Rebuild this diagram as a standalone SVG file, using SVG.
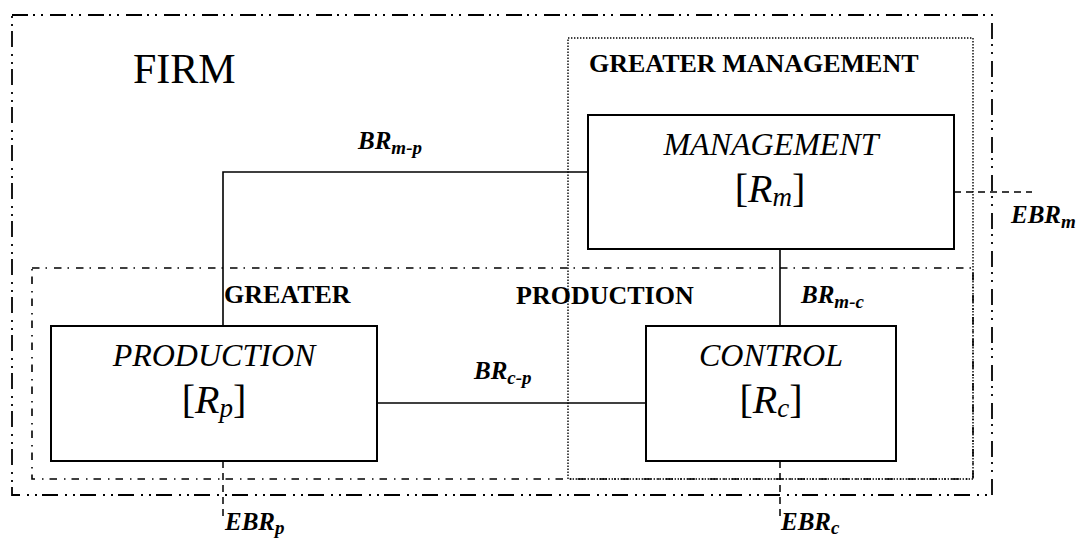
<svg xmlns="http://www.w3.org/2000/svg" width="1082" height="539" viewBox="0 0 1082 539">
  <style>
    .serif { font-family: "Liberation Serif", "Times New Roman", serif; fill: #000; }
    .title { font-size: 42px; }
    .zone { font-size: 26px; font-weight: bold; }
    .unit { font-size: 32px; font-style: italic; }
    .res { font-size: 40px; }
    .res .sym { font-style: italic; }
    .res .sub { font-size: 27px; font-style: italic; }
    .rel { font-size: 25px; font-weight: bold; font-style: italic; }
    .rel .sub { font-size: 19px; }
    .box { fill: #fff; stroke: #000; stroke-width: 2; }
    .firm { fill: none; stroke: #000; stroke-width: 1.8; stroke-dasharray: 16 5 2 6 2 7; }
    .gprod { fill: none; stroke: #000; stroke-width: 1.6; stroke-dasharray: 7.5 6 1.5 7; }
    .gman { fill: none; stroke: #000; stroke-width: 1.4; stroke-dasharray: 1.4 1.6; }
    .link { fill: none; stroke: #000; stroke-width: 1.6; }
    .ext { fill: none; stroke: #000; stroke-width: 1.5; stroke-dasharray: 7 5; }
  </style>

  <rect width="1082" height="539" fill="#fff"/>

  <!-- boundary of the firm -->
  <g id="firm">
    <rect class="firm" x="12" y="15" width="980" height="480"/>
    <text class="serif title" x="133" y="83">FIRM</text>
  </g>

  <!-- greater production zone -->
  <g id="greater-production">
    <rect class="gprod" x="32" y="268" width="941" height="211"/>
    <text class="serif zone" x="224" y="303">GREATER</text>
    <text class="serif zone" x="516" y="304">PRODUCTION</text>
  </g>

  <!-- greater management zone -->
  <g id="greater-management">
    <rect class="gman" x="568" y="38" width="405" height="441"/>
    <text class="serif zone" x="589" y="72">GREATER MANAGEMENT</text>
  </g>

  <!-- relations between units and with the outside -->
  <g id="connectors">
    <polyline class="link" points="588,172 223,172 223,326"/>
    <line class="link" x1="780" y1="249" x2="780" y2="326"/>
    <line class="link" x1="377" y1="403" x2="646" y2="403"/>
    <line class="ext" x1="954" y1="192" x2="1032" y2="192"/>
    <line class="ext" x1="223" y1="461" x2="223" y2="518"/>
    <line class="ext" x1="780" y1="461" x2="780" y2="516"/>

    <text class="serif rel" x="358" y="149">BR<tspan class="sub" dy="5">m-p</tspan></text>
    <text class="serif rel" x="801" y="303">BR<tspan class="sub" dy="5">m-c</tspan></text>
    <text class="serif rel" x="474" y="379">BR<tspan class="sub" dy="5">c-p</tspan></text>
    <text class="serif rel" x="1011" y="223">EBR<tspan class="sub" dy="5">m</tspan></text>
    <text class="serif rel" x="225" y="530">EBR<tspan class="sub" dy="4">p</tspan></text>
    <text class="serif rel" x="781" y="530">EBR<tspan class="sub" dy="4">c</tspan></text>
  </g>

  <g id="management">
    <rect class="box" x="588" y="115" width="366" height="134"/>
    <text class="serif unit" x="771" y="155" text-anchor="middle">MANAGEMENT</text>
    <text class="serif res" x="770" y="202" text-anchor="middle">[<tspan class="sym">R</tspan><tspan class="sub" dy="4">m</tspan><tspan dy="-4">]</tspan></text>
  </g>

  <g id="production">
    <rect class="box" x="51" y="326" width="326" height="135"/>
    <text class="serif unit" x="214" y="366" text-anchor="middle">PRODUCTION</text>
    <text class="serif res" x="214" y="413" text-anchor="middle">[<tspan class="sym">R</tspan><tspan class="sub" dy="4">p</tspan><tspan dy="-4">]</tspan></text>
  </g>

  <g id="control">
    <rect class="box" x="646" y="326" width="250" height="135"/>
    <text class="serif unit" x="771" y="366" text-anchor="middle">CONTROL</text>
    <text class="serif res" x="771" y="413" text-anchor="middle">[<tspan class="sym">R</tspan><tspan class="sub" dy="4">c</tspan><tspan dy="-4">]</tspan></text>
  </g>
</svg>
